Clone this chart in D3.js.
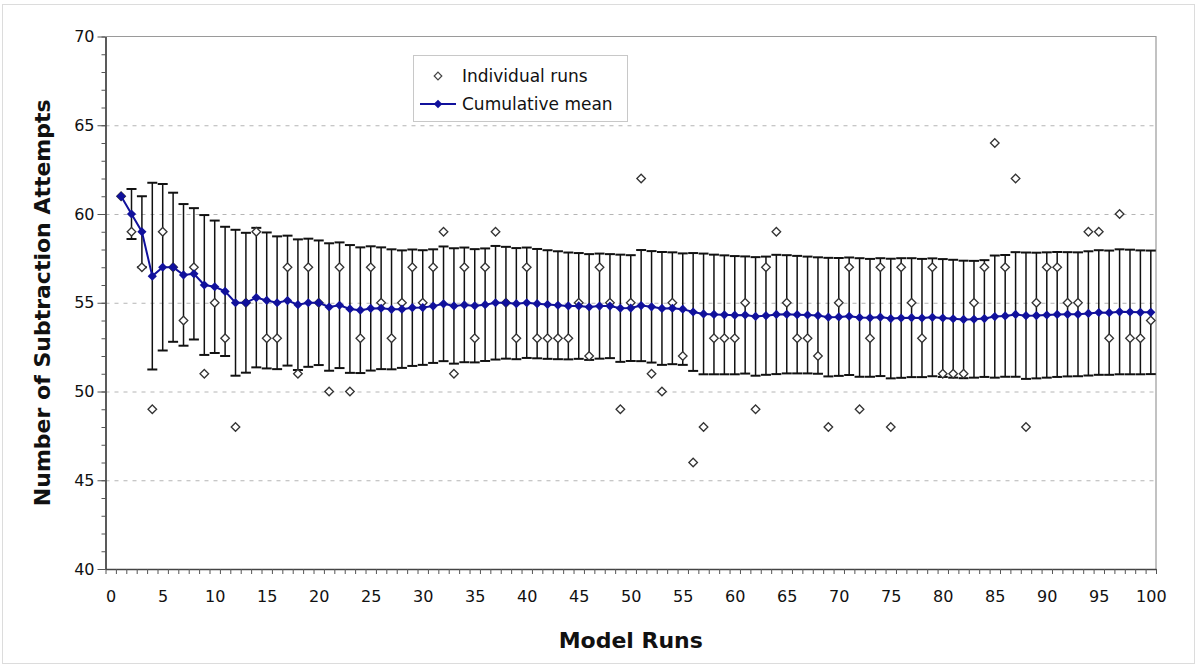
<!DOCTYPE html>
<html>
<head>
<meta charset="utf-8">
<script src="https://cdnjs.cloudflare.com/ajax/libs/d3/7.8.5/d3.min.js"></script>
<style>
  body { margin: 0; background: #fff; }
  text { font-family: "DejaVu Sans", Verdana, sans-serif; fill: #111; }
</style>
</head>
<body>
<div id="chart"></div>
<script>
// values, one per model run (run 1 .. 100)
var individualRuns = [61, 59, 57, 49, 59, 57, 54, 57, 51, 55,
    53, 48, 55, 59, 53, 53, 57, 51, 57, 55,
    50, 57, 50, 53, 57, 55, 53, 55, 57, 55,
    57, 59, 51, 57, 53, 57, 59, 55, 53, 57,
    53, 53, 53, 53, 55, 52, 57, 55, 49, 55,
    62, 51, 50, 55, 52, 46, 48, 53, 53, 53,
    55, 49, 57, 59, 55, 53, 53, 52, 48, 55,
    57, 49, 53, 57, 48, 57, 55, 53, 57, 51,
    51, 51, 55, 57, 64, 57, 62, 48, 55, 57,
    57, 55, 55, 59, 59, 53, 60, 53, 53, 54]

var cumulativeMean = [61.00, 60.00, 59.00, 56.50, 57.00, 57.00, 56.57, 56.63, 56.00, 55.90,
    55.64, 55.00, 55.00, 55.29, 55.13, 55.00, 55.12, 54.89, 55.00, 55.00,
    54.76, 54.86, 54.65, 54.58, 54.68, 54.69, 54.63, 54.64, 54.72, 54.73,
    54.81, 54.94, 54.82, 54.88, 54.83, 54.89, 55.00, 55.00, 54.95, 55.00,
    54.95, 54.90, 54.86, 54.82, 54.82, 54.76, 54.81, 54.81, 54.69, 54.70,
    54.84, 54.77, 54.68, 54.69, 54.64, 54.48, 54.37, 54.34, 54.32, 54.30,
    54.31, 54.23, 54.27, 54.34, 54.35, 54.33, 54.31, 54.28, 54.19, 54.20,
    54.24, 54.17, 54.15, 54.19, 54.11, 54.14, 54.16, 54.14, 54.18, 54.14,
    54.10, 54.06, 54.07, 54.11, 54.22, 54.26, 54.34, 54.27, 54.28, 54.31,
    54.34, 54.35, 54.35, 54.40, 54.45, 54.44, 54.49, 54.48, 54.46, 54.46]

// half length of each error bar
var meanSD = [0, 1.41, 2.00, 5.26, 4.69, 4.20, 3.99, 3.70, 3.94, 3.73,
    3.64, 4.11, 3.94, 3.93, 3.83, 3.74, 3.66, 3.68, 3.61, 3.51,
    3.59, 3.54, 3.60, 3.54, 3.50, 3.43, 3.38, 3.31, 3.28, 3.23,
    3.20, 3.23, 3.25, 3.23, 3.19, 3.17, 3.20, 3.15, 3.13, 3.11,
    3.08, 3.06, 3.04, 3.01, 2.98, 2.98, 2.96, 2.93, 3.02, 2.98,
    3.13, 3.14, 3.18, 3.15, 3.14, 3.32, 3.40, 3.37, 3.35, 3.33,
    3.30, 3.34, 3.33, 3.36, 3.33, 3.31, 3.29, 3.28, 3.34, 3.32,
    3.31, 3.34, 3.32, 3.32, 3.37, 3.37, 3.35, 3.33, 3.32, 3.32,
    3.32, 3.31, 3.29, 3.29, 3.44, 3.43, 3.51, 3.56, 3.54, 3.53,
    3.52, 3.50, 3.49, 3.50, 3.51, 3.50, 3.52, 3.51, 3.49, 3.48]

var yMajorTicks = [40, 45, 50, 55, 60, 65, 70]
var yGridLines = [45, 50, 55, 60, 65]
var xTickLabels = [0, 5, 10, 15, 20, 25, 30, 35, 40, 45, 50, 55, 60, 65, 70, 75, 80, 85, 90, 95, 100]

var W = 1199, H = 670
var plot = { left: 105.5, right: 1156, top: 36.5, bottom: 569 }

var svg = d3.select("#chart").append("svg")
    .attr("width", W)
    .attr("height", H)

// chart area frame
svg.append("rect")
    .attr("x", 2.5).attr("y", 4.5)
    .attr("width", W - 7).attr("height", H - 11)
    .attr("fill", "#fff")
    .attr("stroke", "#dcdcdc")

// category axis: each run is a category, 0..100
var x = d3.scaleLinear().domain([-0.5, 100.5]).range([plot.left, plot.right])
var y = d3.scaleLinear().domain([40, 70]).range([plot.bottom, plot.top])

var runs = individualRuns.map(function (v, i) {
    return { run: i + 1, value: v, mean: cumulativeMean[i], sd: meanSD[i] }
})

// gridlines
svg.append("g").selectAll("line")
    .data(yGridLines)
    .enter().append("line")
    .attr("x1", plot.left).attr("x2", plot.right)
    .attr("y1", function (d) { return y(d) + 0.5 })
    .attr("y2", function (d) { return y(d) + 0.5 })
    .attr("stroke", "#b5b5b5")
    .attr("stroke-dasharray", "4,5")

// plot frame (top / right)
svg.append("path")
    .attr("d", "M" + plot.left + "," + plot.top + "H" + plot.right + "V" + plot.bottom)
    .attr("fill", "none")
    .attr("stroke", "#9a9a9a")
    .attr("stroke-width", 1.2)

// y axis
var yMinor = svg.append("g")
    .attr("transform", "translate(" + plot.left + ",0)")
    .call(d3.axisLeft(y).tickValues(d3.range(40, 71)).tickSize(4).tickFormat("").tickSizeOuter(0))
var yMajor = svg.append("g")
    .attr("transform", "translate(" + plot.left + ",0)")
    .call(d3.axisLeft(y).tickValues(yMajorTicks).tickSize(8).tickPadding(3).tickSizeOuter(0))
yMajor.selectAll("text").attr("font-size", 16).attr("font-family", "'DejaVu Sans', sans-serif")

// x axis: tick marks between categories, labels every 5
var xMarks = svg.append("g")
    .attr("transform", "translate(0," + plot.bottom + ")")
    .call(d3.axisBottom(x).tickValues(d3.range(-0.5, 101, 1)).tickSize(5).tickFormat("").tickSizeOuter(0))
var xLabels = svg.append("g")
    .attr("transform", "translate(0," + plot.bottom + ")")
    .call(d3.axisBottom(x).tickValues(xTickLabels).tickSize(0).tickPadding(22).tickSizeOuter(0))
xLabels.select(".domain").remove()
xLabels.selectAll("text").attr("font-size", 16).attr("font-family", "'DejaVu Sans', sans-serif")

svg.selectAll(".domain").attr("stroke", "#444").attr("stroke-width", 1.3)
svg.selectAll(".tick line").attr("stroke", "#555")

// error bars
var bars = svg.append("g").selectAll("g")
    .data(runs.filter(function (d) { return d.sd > 0 }))
    .enter().append("g")
    .attr("stroke", "#111")
    .attr("stroke-width", 1.5)
bars.append("line")
    .attr("x1", function (d) { return x(d.run) })
    .attr("x2", function (d) { return x(d.run) })
    .attr("y1", function (d) { return y(d.mean - d.sd) })
    .attr("y2", function (d) { return y(d.mean + d.sd) })
bars.append("line")
    .attr("x1", function (d) { return x(d.run) - 5 })
    .attr("x2", function (d) { return x(d.run) + 5 })
    .attr("y1", function (d) { return y(d.mean + d.sd) })
    .attr("y2", function (d) { return y(d.mean + d.sd) })
    .attr("stroke-width", 2)
bars.append("line")
    .attr("x1", function (d) { return x(d.run) - 5 })
    .attr("x2", function (d) { return x(d.run) + 5 })
    .attr("y1", function (d) { return y(d.mean - d.sd) })
    .attr("y2", function (d) { return y(d.mean - d.sd) })
    .attr("stroke-width", 2)

function diamond(r) {
    return "M0," + (-r) + "L" + r + ",0L0," + r + "L" + (-r) + ",0Z"
}

// individual runs
svg.append("g").selectAll("path")
    .data(runs)
    .enter().append("path")
    .attr("d", diamond(4.3))
    .attr("transform", function (d) { return "translate(" + x(d.run) + "," + y(d.value) + ")" })
    .attr("fill", "#fff")
    .attr("stroke", "#333")
    .attr("stroke-width", 1.3)

// cumulative mean
var blue = "#11119c"
svg.append("path")
    .datum(runs)
    .attr("d", d3.line()
        .x(function (d) { return x(d.run) })
        .y(function (d) { return y(d.mean) }))
    .attr("fill", "none")
    .attr("stroke", blue)
    .attr("stroke-width", 2)
svg.append("g").selectAll("path")
    .data(runs)
    .enter().append("path")
    .attr("d", diamond(4.6))
    .attr("transform", function (d) { return "translate(" + x(d.run) + "," + y(d.mean) + ")" })
    .attr("fill", blue)

// legend
var legend = svg.append("g")
legend.append("rect")
    .attr("x", 413.5).attr("y", 55.5)
    .attr("width", 214).attr("height", 66)
    .attr("fill", "#fff")
    .attr("stroke", "#c8c8c8")
legend.append("path")
    .attr("d", diamond(3.8))
    .attr("transform", "translate(438,76)")
    .attr("fill", "#fff").attr("stroke", "#444").attr("stroke-width", 1.2)
legend.append("text")
    .attr("x", 462).attr("y", 76)
    .attr("dy", "0.35em")
    .attr("font-size", 17)
    .text("Individual runs")
legend.append("line")
    .attr("x1", 420).attr("x2", 456)
    .attr("y1", 104).attr("y2", 104)
    .attr("stroke", blue).attr("stroke-width", 2)
legend.append("path")
    .attr("d", diamond(4.3))
    .attr("transform", "translate(438,104)")
    .attr("fill", blue)
legend.append("text")
    .attr("x", 462).attr("y", 104)
    .attr("dy", "0.35em")
    .attr("font-size", 17)
    .text("Cumulative mean")

// axis titles
svg.append("text")
    .attr("x", (plot.left + plot.right) / 2)
    .attr("y", 648)
    .attr("text-anchor", "middle")
    .attr("font-size", 22)
    .attr("font-weight", "bold")
    .text("Model Runs")
svg.append("text")
    .attr("transform", "translate(50," + ((plot.top + plot.bottom) / 2) + ") rotate(-90)")
    .attr("text-anchor", "middle")
    .attr("font-size", 22)
    .attr("font-weight", "bold")
    .text("Number of Subtraction Attempts")
</script>
</body>
</html>
